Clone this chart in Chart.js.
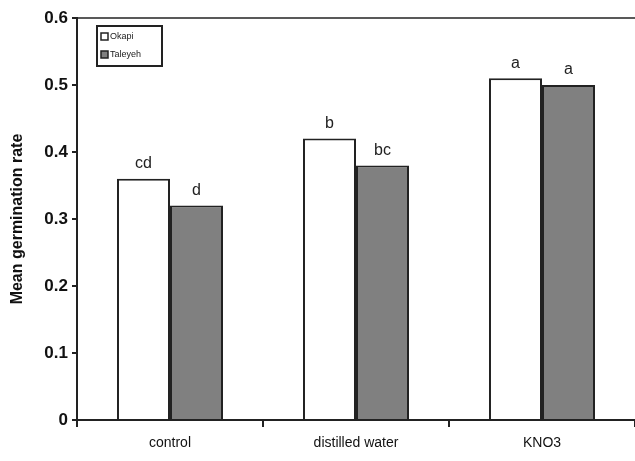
<!DOCTYPE html>
<html>
<head>
<meta charset="utf-8">
<script src="https://cdn.jsdelivr.net/npm/chart.js@4/dist/chart.umd.min.js"></script>
<style>
  body { margin: 0; background: #fff; }
</style>
</head>
<body>
<canvas id="germination" width="635" height="461"></canvas>
<script>
const treatments = ['control', 'distilled water', 'KNO3'];
const okapiValues = [0.36, 0.42, 0.51];
const taleyehValues = [0.32, 0.38, 0.50];
const okapiLetters = ['cd', 'b', 'a'];
const taleyehLetters = ['d', 'bc', 'a'];

// letters over each bar + top frame line + legend box
const extras = {
    id: 'extras',
    afterDatasetsDraw(chart) {
        const ctx = chart.ctx;
        const letters = [okapiLetters, taleyehLetters];
        ctx.save();
        ctx.fillStyle = '#222';
        ctx.font = '16px "Liberation Sans", Arial, sans-serif';
        ctx.textAlign = 'center';
        ctx.textBaseline = 'bottom';
        chart.data.datasets.forEach((ds, i) => {
            chart.getDatasetMeta(i).data.forEach((bar, j) => {
                ctx.fillText(letters[i][j], bar.x, bar.y - 7);
            });
        });
        // top border
        const a = chart.chartArea;
        ctx.strokeStyle = '#222';
        ctx.lineWidth = 1.5;
        ctx.beginPath();
        ctx.moveTo(a.left, a.top);
        ctx.lineTo(a.right, a.top);
        ctx.stroke();

        // legend box
        const lx = a.left + 20, ly = a.top + 8;
        ctx.lineWidth = 2;
        ctx.strokeRect(lx, ly, 65, 40);
        ctx.font = '9px "Liberation Sans", Arial, sans-serif';
        ctx.textAlign = 'left';
        ctx.textBaseline = 'middle';
        chart.data.datasets.forEach((ds, i) => {
            const yy = ly + 11 + i * 18;
            ctx.fillStyle = ds.backgroundColor;
            ctx.fillRect(lx + 4, yy - 4, 7, 7);
            ctx.lineWidth = 1.5;
            ctx.strokeRect(lx + 4, yy - 4, 7, 7);
            ctx.fillStyle = '#222';
            ctx.fillText(ds.label, lx + 13, yy);
        });
        ctx.restore();
    }
};

new Chart(document.getElementById('germination').getContext('2d'), {
    type: 'bar',
    data: {
        labels: treatments,
        datasets: [
            { label: 'Okapi', data: okapiValues, backgroundColor: '#ffffff', borderColor: '#222', borderWidth: 2 },
            { label: 'Taleyeh', data: taleyehValues, backgroundColor: '#808080', borderColor: '#222', borderWidth: 2 }
        ]
    },
    options: {
        responsive: false,
        animation: false,
        layout: { padding: { top: 18, right: 0, left: 0, bottom: 0 } },
        datasets: { bar: { categoryPercentage: 0.57, barPercentage: 1.0 } },
        plugins: {
            legend: { display: false },
            tooltip: { enabled: false }
        },
        scales: {
            x: {
                grid: { offset: true, drawOnChartArea: false, tickLength: 7, color: '#222', lineWidth: 2 },
                border: { color: '#222', width: 2 },
                ticks: { color: '#111', font: { size: 14, family: '"Liberation Sans", Arial, sans-serif' }, padding: 8 },
                afterFit(scale) { scale.height = 41; }
            },
            y: {
                min: 0,
                max: 0.6,
                ticks: {
                    stepSize: 0.1,
                    color: '#111',
                    padding: 4,
                    font: { size: 17, weight: 'bold', family: '"Liberation Sans", Arial, sans-serif' },
                    callback: v => Math.round(v * 10) / 10
                },
                grid: { drawOnChartArea: false, tickLength: 5, color: '#222', lineWidth: 2 },
                border: { color: '#222', width: 2 },
                title: {
                    display: true,
                    text: 'Mean germination rate',
                    color: '#111',
                    font: { size: 16, weight: 'bold', family: '"Liberation Sans", Arial, sans-serif' },
                    padding: { top: 8, bottom: 0 }
                },
                afterFit(scale) { scale.width = 77; }
            }
        }
    },
    plugins: [extras]
});
</script>
</body>
</html>
